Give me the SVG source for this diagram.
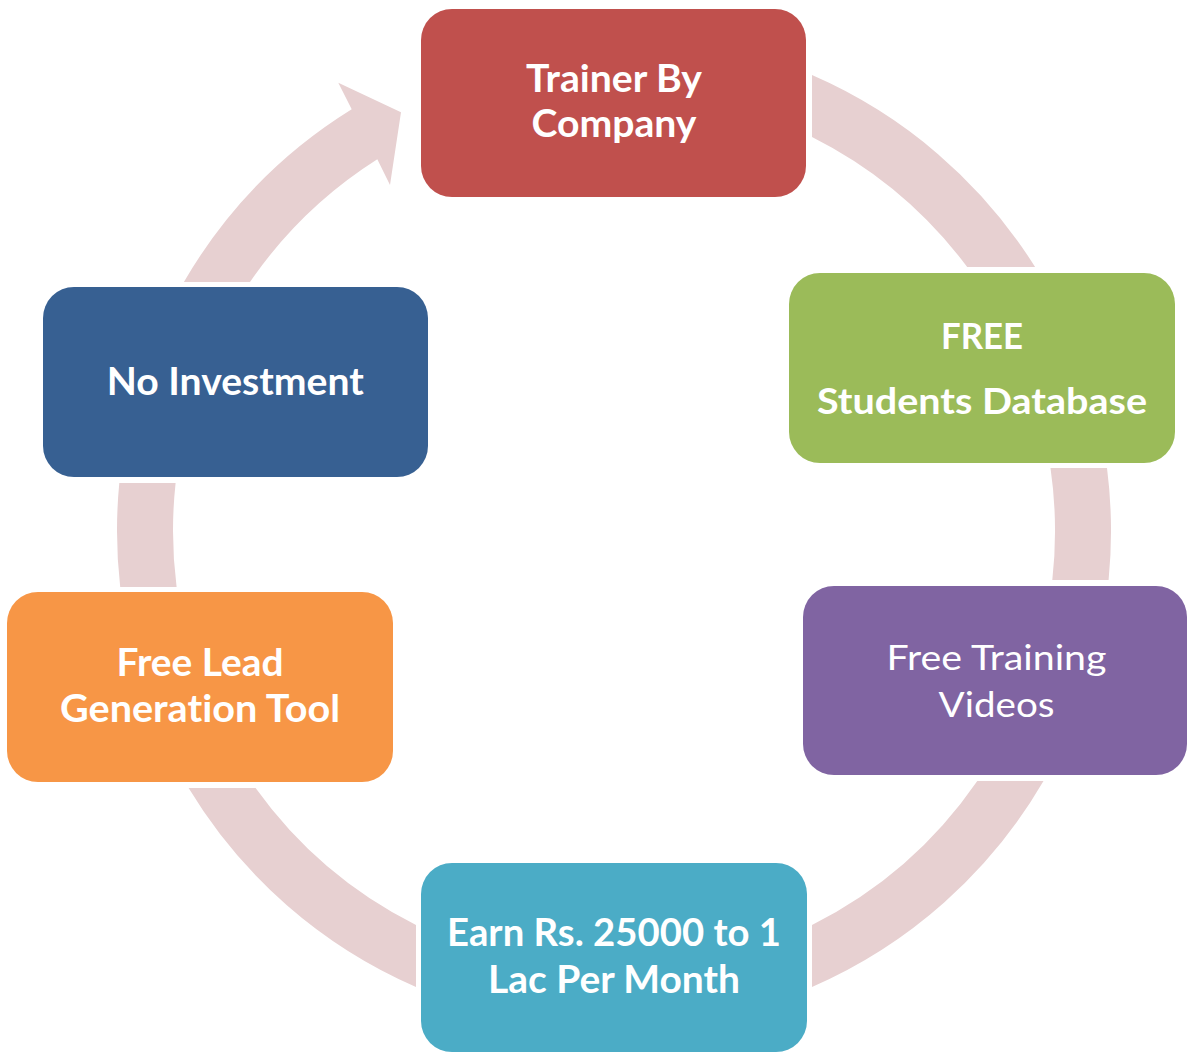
<svg xmlns="http://www.w3.org/2000/svg" width="1188" height="1053" viewBox="0 0 1188 1053">
<style>
.ring{fill:#E7D0D1;stroke:none}
.node{stroke:none}
.t{fill:#FFFFFF;font-family:Lato,"Open Sans","Liberation Sans",sans-serif;font-weight:bold;text-anchor:middle;font-variant-ligatures:none}
.r{font-weight:normal}
</style>
<rect width="1188" height="1053" fill="#FFFFFF"/>
<g id="connectors">
<path class="ring" d="M 812 75.1 A 497 497 0 0 1 1035.1 267 L 967.2 267 A 441 441 0 0 0 812 137 Z"/>
<path class="ring" d="M 1107 468 A 497 497 0 0 1 1108.6 580 L 1052.3 580 A 441 441 0 0 0 1050.5 468 Z"/>
<path class="ring" d="M 1043.5 781 A 497 497 0 0 1 812 986.9 L 812 925 A 441 441 0 0 0 977.3 781 Z"/>
<path class="ring" d="M 416 986.9 A 497 497 0 0 1 188.6 788 L 255.6 788 A 441 441 0 0 0 416 925 Z"/>
<path class="ring" d="M 120.2 587 A 497 497 0 0 1 119.3 483 L 175.6 483 A 441 441 0 0 0 176.6 587 Z"/>
<path class="ring" d="M 183.9 282 A 497 497 0 0 1 351.7 109.3 L 338.3 82.7 L 401 112.3 L 390 185 L 377.3 159.3 A 441 441 0 0 0 250 282 Z"/>
</g>
<g id="node-trainer">
<rect class="node" x="421" y="9" width="385" height="188" rx="31" fill="#C0504D"/>
<text class="t" x="614" y="91.7" font-size="38" textLength="176" lengthAdjust="spacingAndGlyphs">Trainer By</text>
<text class="t" x="614" y="137.3" font-size="38" textLength="165" lengthAdjust="spacingAndGlyphs">Company</text>
</g>
<g id="node-free-db">
<rect class="node" x="789" y="273" width="386" height="190" rx="31" fill="#9BBB59"/>
<text class="t" x="982" y="348.5" font-size="36" textLength="82" lengthAdjust="spacingAndGlyphs">FREE</text>
<text class="t" x="982" y="413.7" font-size="36" textLength="330" lengthAdjust="spacingAndGlyphs">Students Database</text>
</g>
<g id="node-videos">
<rect class="node" x="803" y="586" width="384" height="189" rx="31" fill="#8064A2"/>
<text class="t r" x="996.5" y="669.5" font-size="35" textLength="220" lengthAdjust="spacingAndGlyphs">Free Training</text>
<text class="t r" x="996.5" y="716.8" font-size="35" textLength="116" lengthAdjust="spacingAndGlyphs">Videos</text>
</g>
<g id="node-earn">
<rect class="node" x="421" y="863" width="386" height="189" rx="31" fill="#4BACC6"/>
<text class="t" x="614" y="946" font-size="37.5" textLength="334" lengthAdjust="spacingAndGlyphs">Earn Rs. 25000 to 1</text>
<text class="t" x="614" y="992.7" font-size="37.5" textLength="252" lengthAdjust="spacingAndGlyphs">Lac Per Month</text>
</g>
<g id="node-lead">
<rect class="node" x="7" y="592" width="386" height="190" rx="31" fill="#F79646"/>
<text class="t" x="200" y="675.7" font-size="38" textLength="167" lengthAdjust="spacingAndGlyphs">Free Lead</text>
<text class="t" x="200" y="722.3" font-size="38" textLength="280" lengthAdjust="spacingAndGlyphs">Generation Tool</text>
</g>
<g id="node-investment">
<rect class="node" x="43" y="287" width="385" height="190" rx="31" fill="#376092"/>
<text class="t" x="235.3" y="395" font-size="38" textLength="257" lengthAdjust="spacingAndGlyphs">No Investment</text>
</g>
</svg>
